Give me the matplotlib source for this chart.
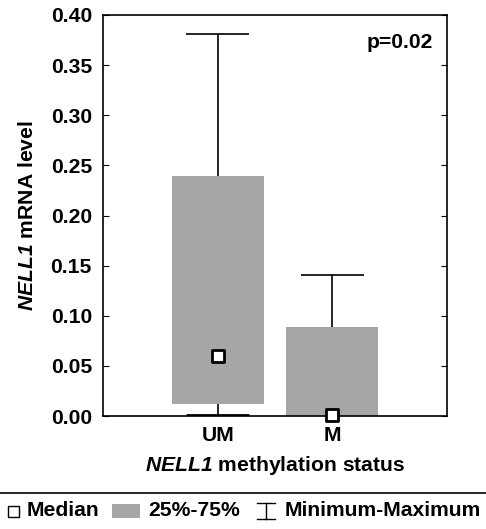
import matplotlib.pyplot as plt
from matplotlib.patches import Rectangle
from matplotlib.lines import Line2D

plt.rcParams['font.family'] = ['Liberation Sans', 'DejaVu Sans']
plt.rcParams['font.weight'] = 'bold'
# gene names in bold italic
plt.rcParams['mathtext.fontset'] = 'custom'
plt.rcParams['mathtext.it'] = 'Liberation Sans:italic:bold'
plt.rcParams['mathtext.rm'] = 'Liberation Sans:italic:bold'

groups = ["UM", "M"]
medians = [0.060, 0.001]
q1 = [0.012, 0.000]
q3 = [0.239, 0.089]
mins = [0.001, 0.000]
maxs = [0.381, 0.141]

gray = "#a6a6a6"
pos = [1, 2]
fs = 15.2

fig = plt.figure(figsize=(4.86, 5.29), dpi=100)
ax = fig.add_axes([103 / 486, 1 - 416 / 529, 344 / 486, 401 / 529])

# whiskers behind the boxes
ax.vlines(pos, mins, maxs, color="black", lw=1.2, zorder=1)
ax.hlines(maxs, [p - 0.275 for p in pos], [p + 0.275 for p in pos], color="black", lw=1.2, zorder=1)
ax.hlines(mins, [p - 0.275 for p in pos], [p + 0.275 for p in pos], color="black", lw=2, zorder=1)

# boxes 25%-75%
ax.bar(pos, [t - b for t, b in zip(q3, q1)], bottom=q1, width=0.8, color=gray, zorder=2)

# medians
ax.scatter(pos, medians, marker="s", s=75, facecolor="white", edgecolor="black", linewidth=2, zorder=3, clip_on=False)

ax.set_xlim(0, 3)
ax.set_ylim(0, 0.40)
ax.set_yticks([0.0, 0.05, 0.10, 0.15, 0.20, 0.25, 0.30, 0.35, 0.40])
ax.set_yticklabels(["%.2f" % v for v in ax.get_yticks()], fontsize=fs, fontweight="bold")
ax.set_xticks(pos)
ax.set_xticklabels(groups, fontsize=fs, fontweight="bold")
ax.tick_params(axis="y", direction="in", length=4, right=True, pad=8)
ax.tick_params(axis="x", length=0, pad=7)
for s in ax.spines.values():
    s.set_linewidth(1.2)

ax.set_ylabel("$NELL1$ mRNA level", fontsize=fs, fontweight="bold", labelpad=10)
ax.set_xlabel("$NELL1$ methylation status", fontsize=fs, fontweight="bold", labelpad=7)
ax.text(0.96, 0.955, "p=0.02", transform=ax.transAxes, ha="right", va="top", fontsize=fs, fontweight="bold")

# separator line and legend
fig.add_artist(Line2D([0, 1], [1 - 493 / 529, 1 - 493 / 529], color="black", lw=1.2))
ly = 1 - 511 / 529
fig.add_artist(Rectangle((8 / 486, ly - 6 / 529), 11 / 486, 11 / 529, facecolor="white", edgecolor="black", lw=1))
fig.text(27 / 486, ly, "Median", fontsize=fs, fontweight="bold", va="center")
fig.add_artist(Rectangle((112 / 486, ly - 7 / 529), 28 / 486, 14 / 529, facecolor=gray, edgecolor="none"))
fig.text(148 / 486, ly, "25%-75%", fontsize=fs, fontweight="bold", va="center")
sx = 266 / 486
fig.add_artist(Line2D([sx, sx], [ly - 8 / 529, ly + 8 / 529], color="black", lw=1))
fig.add_artist(Line2D([sx - 9 / 486, sx + 9 / 486], [ly + 8 / 529, ly + 8 / 529], color="black", lw=1))
fig.add_artist(Line2D([sx - 9 / 486, sx + 9 / 486], [ly - 8 / 529, ly - 8 / 529], color="black", lw=1))
fig.text(285 / 486, ly, "Minimum-Maximum", fontsize=fs, fontweight="bold", va="center")

fig.savefig("out.png", dpi=100)
